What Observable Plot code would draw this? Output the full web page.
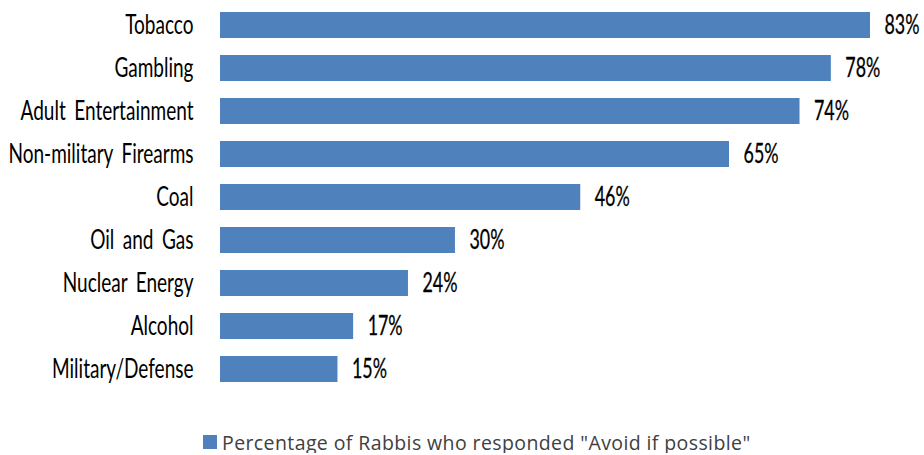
<!DOCTYPE html>
<html>
<head>
<meta charset="utf-8">
<script src="https://cdn.jsdelivr.net/npm/d3@7"></script>
<script src="https://cdn.jsdelivr.net/npm/@observablehq/plot@0.6"></script>
<style>
  html, body { margin: 0; padding: 0; background: #fff; }
  #chart { width: 924px; height: 395px; }
  .legend { display: flex; align-items: center; margin-left: 203px; margin-top: 36px; height: 22px;
    font-family: "Open Sans", Lato, sans-serif; font-size: 19.5px; letter-spacing: 0.4px; color: #404040; white-space: nowrap; }
  .legend .sw { width: 14px; height: 14px; background: #4F81BD; margin-right: 5px; }
</style>
</head>
<body>
<div id="chart"></div>
<script>
const categories = ["Tobacco", "Gambling", "Adult Entertainment", "Non-military Firearms", "Coal", "Oil and Gas", "Nuclear Energy", "Alcohol", "Military/Defense"];
const values = [83, 78, 74, 65, 46, 30, 24, 17, 15];
const seriesName = "Percentage of Rabbis who responded \"Avoid if possible\"";

const data = categories.map((c, i) => ({category: c, value: values[i]}));
const font = "Lato, 'Liberation Sans', sans-serif";

const plot = Plot.plot({
  width: 924,
  height: 395,
  marginLeft: 220,
  marginRight: 54,
  marginTop: 1,
  marginBottom: 3,
  style: {fontFamily: font, background: "#fff", overflow: "visible"},
  x: {domain: [0, 83], axis: null},
  y: {domain: categories, paddingInner: 0.4, paddingOuter: 0.2, label: null},
  marks: [
    Plot.barX(data, {x: "value", y: "category", fill: "#4F81BD"}),
    Plot.axisY({tickSize: 0, tickPadding: 27, fontSize: 26, fill: "#000", stroke: "#000", strokeWidth: 0.7, label: null, className: "cat"}),
    Plot.text(data, {x: "value", y: "category", text: d => d.value + "%", dx: 14, textAnchor: "start", fontSize: 26, fill: "#000", stroke: "#000", strokeWidth: 0.3, className: "val"})
  ]
});
document.getElementById("chart").appendChild(plot);

// condense the glyphs horizontally, as in the reference's condensed typeface
function condense(texts, ratio) {
  texts.forEach(t => {
    const len = t.getComputedTextLength();
    if (len > 0) {
      t.setAttribute("textLength", (len * ratio).toFixed(2));
      t.setAttribute("lengthAdjust", "spacingAndGlyphs");
    }
  });
}
const catTexts = Array.from(plot.querySelectorAll(".cat text"));
catTexts.forEach(t => t.style.wordSpacing = "5px");
const maxLen = d3.max(catTexts, t => t.getComputedTextLength());
condense(catTexts, 185 / maxLen);
const valTexts = Array.from(plot.querySelectorAll(".val text"));
const valMax = d3.max(valTexts, t => t.getComputedTextLength());
condense(valTexts, 35 / valMax);

const leg = document.createElement("div");
leg.className = "legend";
leg.innerHTML = '<div class="sw"></div><span></span>';
leg.querySelector("span").textContent = seriesName;
document.body.appendChild(leg);
</script>
</body>
</html>
